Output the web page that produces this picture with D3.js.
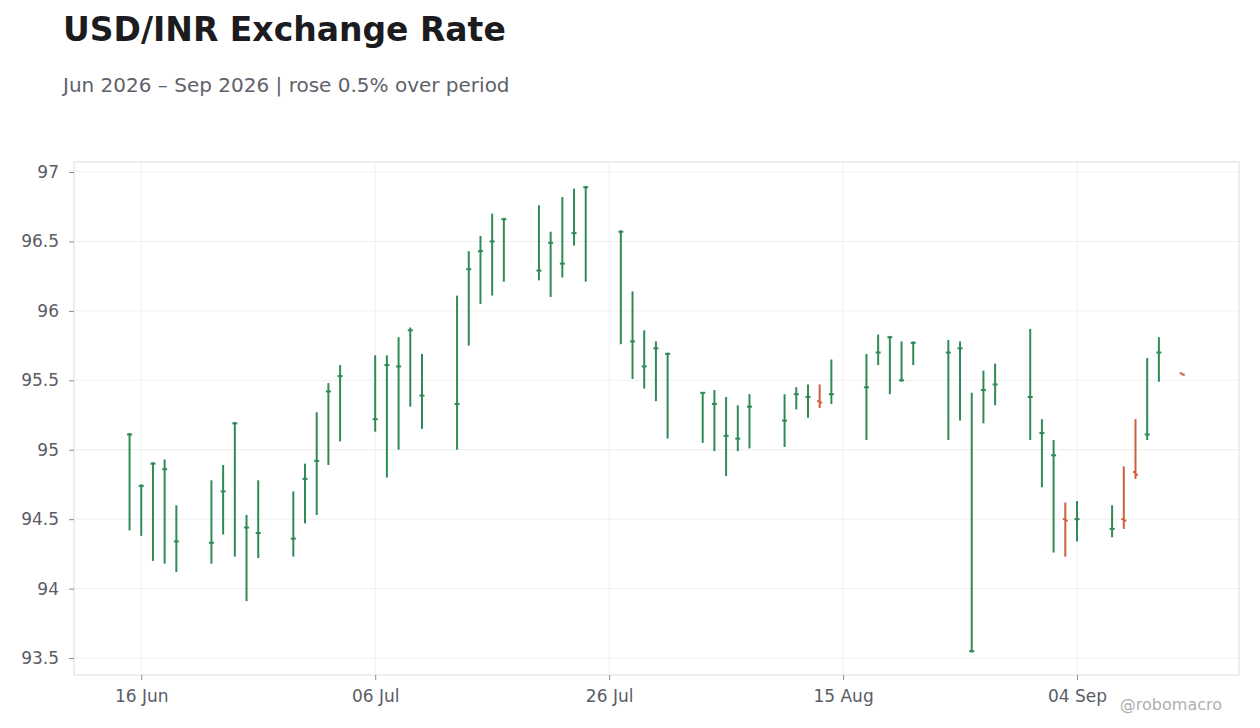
<!DOCTYPE html>
<html>
<head>
<meta charset="utf-8">
<title>USD/INR Exchange Rate</title>
<script src="https://cdn.jsdelivr.net/npm/d3@7"></script>
<style>
  * { margin:0; padding:0; }
  body { background:#fff; font-family:"DejaVu Sans", sans-serif; }
</style>
</head>
<body>
<div id="show"></div>
<script>
// daily OHLC
var dates = ["2026-06-15","2026-06-16","2026-06-17","2026-06-18","2026-06-19",
             "2026-06-22","2026-06-23","2026-06-24","2026-06-25","2026-06-26",
             "2026-06-29","2026-06-30","2026-07-01","2026-07-02","2026-07-03",
             "2026-07-06","2026-07-07","2026-07-08","2026-07-09","2026-07-10",
             "2026-07-13","2026-07-14","2026-07-15","2026-07-16","2026-07-17",
             "2026-07-20","2026-07-21","2026-07-22","2026-07-23","2026-07-24",
             "2026-07-27","2026-07-28","2026-07-29","2026-07-30","2026-07-31",
             "2026-08-03","2026-08-04","2026-08-05","2026-08-06","2026-08-07",
             "2026-08-10","2026-08-11","2026-08-12","2026-08-13","2026-08-14",
             "2026-08-17","2026-08-18","2026-08-19","2026-08-20","2026-08-21",
             "2026-08-24","2026-08-25","2026-08-26","2026-08-27","2026-08-28",
             "2026-08-31","2026-09-01","2026-09-02","2026-09-03","2026-09-04",
             "2026-09-07","2026-09-08","2026-09-09","2026-09-10","2026-09-11",
             "2026-09-13"];
var opens  = [95.11,94.74,94.90,94.86,94.34, 94.33,94.70,95.19,94.44,94.40,
              94.36,94.79,94.92,95.42,95.53, 95.22,95.61,95.60,95.86,95.39,
              95.33,96.30,96.43,96.50,96.66, 96.29,96.49,96.34,96.56,96.89,
              96.57,95.78,95.60,95.73,95.69, 95.41,95.33,95.10,95.08,95.31,
              95.21,95.40,95.38,95.35,95.40, 95.45,95.70,95.81,95.50,95.77,
              95.70,95.73,93.55,95.43,95.47, 95.38,95.12,94.96,94.50,94.50,
              94.43,94.50,94.84,95.11,95.70, 95.55];
var highs  = [95.12,94.75,94.91,94.93,94.60, 94.78,94.89,95.20,94.53,94.78,
              94.70,94.90,95.27,95.48,95.61, 95.68,95.68,95.81,95.88,95.69,
              96.11,96.43,96.54,96.70,96.67, 96.76,96.57,96.82,96.88,96.90,
              96.58,96.14,95.86,95.78,95.70, 95.41,95.43,95.38,95.32,95.40,
              95.40,95.45,95.47,95.47,95.65, 95.69,95.83,95.82,95.78,95.78,
              95.79,95.78,95.41,95.57,95.62, 95.87,95.22,95.07,94.62,94.63,
              94.60,94.88,95.22,95.66,95.81, 95.55];
var lows   = [94.42,94.38,94.20,94.18,94.12, 94.18,94.39,94.23,93.91,94.22,
              94.23,94.47,94.53,94.89,95.06, 95.13,94.80,95.00,95.31,95.15,
              95.00,95.75,96.05,96.11,96.21, 96.22,96.10,96.24,96.47,96.21,
              95.76,95.51,95.44,95.35,95.08, 95.05,94.99,94.81,94.99,95.01,
              95.02,95.29,95.23,95.30,95.33, 95.07,95.61,95.40,95.49,95.61,
              95.07,95.21,93.54,95.19,95.32, 95.07,94.73,94.26,94.23,94.34,
              94.37,94.43,94.79,95.07,95.49, 95.54];
var closes = [95.11,94.74,94.90,94.86,94.34, 94.33,94.70,95.19,94.44,94.40,
              94.36,94.79,94.92,95.42,95.53, 95.22,95.61,95.60,95.86,95.39,
              95.33,96.30,96.43,96.50,96.66, 96.29,96.49,96.34,96.56,96.89,
              96.57,95.78,95.60,95.73,95.69, 95.41,95.33,95.10,95.08,95.31,
              95.21,95.40,95.38,95.34,95.40, 95.45,95.70,95.81,95.50,95.77,
              95.70,95.73,93.55,95.43,95.47, 95.38,95.12,94.96,94.49,94.50,
              94.43,94.49,94.82,95.11,95.70, 95.54];

var yTicks = [93.5, 94, 94.5, 95, 95.5, 96, 96.5, 97];
var xTickDates = ["2026-06-16","2026-07-06","2026-07-26","2026-08-15","2026-09-04"];

var width = 1260, height = 728;
var margin = {top:162, right:21, bottom:53, left:74};
var upColor = "#2e8b57", downColor = "#cf5f3d";

var parse = d3.timeParse("%Y-%m-%d");
var bars = dates.map(function(d,i){
  return {date:parse(d), o:opens[i], h:highs[i], l:lows[i], c:closes[i]};
});

var svg = d3.select("#show").append("svg")
            .attr("width",width)
            .attr("height",height);

svg.append("text").attr("x",63).attr("y",41)
   .attr("font-size",33).attr("font-weight","bold").attr("fill","#1b1b20")
   .text("USD/INR Exchange Rate");
svg.append("text").attr("x",63).attr("y",92)
   .attr("font-size",20).attr("fill","#60626b")
   .text("Jun 2026 \u2013 Sep 2026 | rose 0.5% over period");

var day = 86400000;
var x = d3.scaleTime()
          .domain([new Date(bars[0].date.getTime() - 4.75*day),
                   new Date(bars[bars.length-1].date.getTime() + 4.85*day)])
          .range([margin.left, width - margin.right]);
var y = d3.scaleLinear()
          .domain([93.378, 97.072])
          .range([height - margin.bottom, margin.top]);

// grid
var grid = svg.append("g").attr("class","grid");
grid.selectAll(".gy").data(yTicks).enter().append("line")
    .attr("x1",margin.left).attr("x2",width - margin.right)
    .attr("y1",function(d){return y(d);}).attr("y2",function(d){return y(d);})
    .attr("stroke","#efefef").attr("stroke-width",1);
grid.selectAll(".gx").data(xTickDates).enter().append("line")
    .attr("x1",function(d){return x(parse(d));}).attr("x2",function(d){return x(parse(d));})
    .attr("y1",margin.top).attr("y2",height - margin.bottom)
    .attr("stroke","#efefef").attr("stroke-width",1);

svg.append("rect")
   .attr("x",margin.left).attr("y",margin.top)
   .attr("width",width - margin.left - margin.right)
   .attr("height",height - margin.top - margin.bottom)
   .attr("fill","none").attr("stroke","#dedede");

// axes
var yAxis = d3.axisLeft(y).tickValues(yTicks).tickSize(5).tickPadding(10)
              .tickFormat(d3.format("~g"));
var gy = svg.append("g").attr("transform","translate("+margin.left+",0)").call(yAxis);
var xAxis = d3.axisBottom(x).tickValues(xTickDates.map(parse)).tickSize(5).tickPadding(9.5)
              .tickFormat(d3.timeFormat("%d %b"));
var gx = svg.append("g").attr("transform","translate(0,"+(height - margin.bottom)+")").call(xAxis);
[gx, gy].forEach(function(g){
  g.select(".domain").remove();
  g.selectAll(".tick line").attr("stroke","#8a8a8a");
  g.selectAll(".tick text").attr("fill","#5a5d66").attr("font-size",17)
   .attr("font-family","DejaVu Sans, sans-serif");
});

// ohlc bars
var ohlc = svg.append("g").attr("class","ohlc");
var node = ohlc.selectAll("g").data(bars).enter().append("g")
               .attr("stroke",function(d){return d.c >= d.o ? upColor : downColor;})
               .attr("stroke-width",2);
node.append("line")
    .attr("x1",function(d){return x(d.date);}).attr("x2",function(d){return x(d.date);})
    .attr("y1",function(d){return y(d.h);}).attr("y2",function(d){return y(d.l);});
node.append("line")
    .attr("x1",function(d){return x(d.date) - 2.5;}).attr("x2",function(d){return x(d.date);})
    .attr("y1",function(d){return y(d.o);}).attr("y2",function(d){return y(d.o);});
node.append("line")
    .attr("x1",function(d){return x(d.date);}).attr("x2",function(d){return x(d.date) + 2.5;})
    .attr("y1",function(d){return y(d.c);}).attr("y2",function(d){return y(d.c);});

svg.append("text").attr("x",1222).attr("y",710).attr("text-anchor","end")
   .attr("font-size",16).attr("fill","#b0b0b0")
   .text("@robomacro");
</script>
</body>
</html>
